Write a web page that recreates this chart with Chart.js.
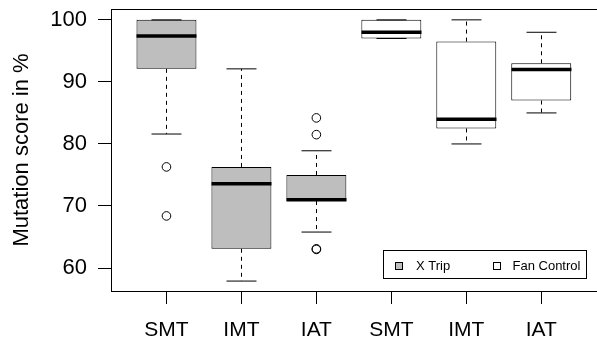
<!DOCTYPE html>
<html>
<head>
<meta charset="utf-8">
<script src="https://cdn.jsdelivr.net/npm/chart.js@4.4.1/dist/chart.umd.min.js"></script>
<style>
  html, body { margin: 0; padding: 0; background: #fff; overflow: hidden; }
  #wrap { width: 597px; height: 343px; overflow: hidden; }
</style>
</head>
<body>
<div id="wrap"><canvas id="box-chart" width="602" height="343"></canvas></div>
<script>
/////////////////// data ///////////////////
var groupLabels = ['SMT', 'IMT', 'IAT', 'SMT', 'IMT', 'IAT'];
var yTicks = [60, 70, 80, 90, 100];

// X Trip (positions 1-3)
var xTripPos = [1, 2, 3];
var xTripLow = [81.6, 57.9, 65.8];
var xTripQ1 = [92.1, 63.1, 70.8];
var xTripMedian = [97.4, 73.6, 71.0];
var xTripQ3 = [100, 76.3, 75.0];
var xTripHigh = [100, 92.1, 78.9];
var xTripOutliers = [[76.3, 68.4], [], [84.2, 81.5, 63.1, 63.0]];

// Fan Control (positions 4-6)
var fanPos = [4, 5, 6];
var fanLow = [97.0, 80.0, 85.0];
var fanQ1 = [97.0, 82.5, 87.0];
var fanMedian = [98.0, 84.0, 92.0];
var fanQ3 = [100, 96.5, 93.0];
var fanHigh = [100, 100, 98.0];
var fanOutliers = [[], [], []];

var FONT = '"Liberation Sans", Arial, Helvetica, sans-serif';
var GREY = '#BEBEBE';

function boxData(pos, q1, q3) {
    return pos.map(function (p, i) { return { x: p, y: [q1[i], q3[i]] }; });
}
function outlierData(pos, outs) {
    var pts = [];
    pos.forEach(function (p, i) {
        outs[i].forEach(function (v) { pts.push({ x: p, y: v }); });
    });
    return pts;
}

// whiskers, caps and medians on top of the boxes
var boxExtras = {
    id: 'boxExtras',
    afterDatasetsDraw: function (chart) {
        var ctx = chart.ctx;
        var xs = chart.scales.x;
        var ys = chart.scales.y;
        var unit = xs.getPixelForValue(1) - xs.getPixelForValue(0);
        var series = [
            { pos: xTripPos, lo: xTripLow, q1: xTripQ1, med: xTripMedian, q3: xTripQ3, hi: xTripHigh },
            { pos: fanPos, lo: fanLow, q1: fanQ1, med: fanMedian, q3: fanQ3, hi: fanHigh }
        ];
        ctx.save();
        ctx.strokeStyle = '#000';
        series.forEach(function (s) {
            s.pos.forEach(function (p, i) {
                var x = Math.round(xs.getPixelForValue(p)) + 0.5;
                // dashed whiskers
                ctx.lineWidth = 1;
                ctx.setLineDash([4, 4]);
                ctx.beginPath();
                ctx.moveTo(x, ys.getPixelForValue(s.q3[i]));
                ctx.lineTo(x, ys.getPixelForValue(s.hi[i]));
                ctx.moveTo(x, ys.getPixelForValue(s.q1[i]));
                ctx.lineTo(x, ys.getPixelForValue(s.lo[i]));
                ctx.stroke();
                // caps
                ctx.setLineDash([]);
                ctx.beginPath();
                ctx.moveTo(x - unit * 0.2, ys.getPixelForValue(s.hi[i]));
                ctx.lineTo(x + unit * 0.2, ys.getPixelForValue(s.hi[i]));
                ctx.moveTo(x - unit * 0.2, ys.getPixelForValue(s.lo[i]));
                ctx.lineTo(x + unit * 0.2, ys.getPixelForValue(s.lo[i]));
                ctx.stroke();
                // median
                ctx.lineWidth = 3.5;
                ctx.beginPath();
                ctx.moveTo(x - unit * 0.4, ys.getPixelForValue(s.med[i]));
                ctx.lineTo(x + unit * 0.4, ys.getPixelForValue(s.med[i]));
                ctx.stroke();
            });
        });
        ctx.restore();
    },
    afterDraw: function (chart) {
        var ctx = chart.ctx;
        var a = chart.chartArea;
        ctx.save();
        // frame round the plot
        ctx.strokeStyle = '#000';
        ctx.lineWidth = 1;
        ctx.strokeRect(Math.round(a.left) + 0.5, Math.round(a.top) + 0.5,
            Math.round(a.right - a.left), Math.round(a.bottom - a.top));
        // legend
        var lx = 383.5, ly = 250.5, lw = 203, lh = 28;
        ctx.fillStyle = '#fff';
        ctx.fillRect(lx, ly, lw, lh);
        ctx.strokeRect(lx, ly, lw, lh);
        var items = [
            { text: 'X Trip', fill: GREY, sx: 395.5, tx: 416 },
            { text: 'Fan Control', fill: '#fff', sx: 493.5, tx: 512.5 }
        ];
        ctx.font = '13px ' + FONT;
        ctx.textBaseline = 'middle';
        ctx.textAlign = 'left';
        items.forEach(function (it) {
            ctx.fillStyle = it.fill;
            ctx.fillRect(it.sx, 262.5, 7, 7);
            ctx.strokeRect(it.sx, 262.5, 7, 7);
            ctx.fillStyle = '#000';
            ctx.fillText(it.text, it.tx, 266.5);
        });
        ctx.restore();
    }
};

var ctx = document.getElementById('box-chart').getContext('2d');
var chart = new Chart(ctx, {
    type: 'bar',
    data: {
        datasets: [{
            label: 'X Trip',
            data: boxData(xTripPos, xTripQ1, xTripQ3),
            backgroundColor: GREY,
            borderColor: '#000',
            borderWidth: 1,
            borderSkipped: false
        }, {
            label: 'Fan Control',
            data: boxData(fanPos, fanQ1, fanQ3),
            backgroundColor: '#fff',
            borderColor: '#000',
            borderWidth: 1,
            borderSkipped: false
        }, {
            type: 'scatter',
            label: 'outliers',
            data: outlierData(xTripPos, xTripOutliers).concat(outlierData(fanPos, fanOutliers)),
            pointRadius: 4.3,
            pointBackgroundColor: 'rgba(0,0,0,0)',
            pointBorderColor: '#000',
            pointBorderWidth: 1
        }]
    },
    options: {
        responsive: false,
        animation: false,
        devicePixelRatio: 1,
        grouped: false,
        barPercentage: 0.8,
        categoryPercentage: 1,
        layout: { padding: { top: 9, right: 1, left: 0, bottom: 0 } },
        plugins: {
            legend: { display: false },
            tooltip: { enabled: false }
        },
        scales: {
            x: {
                type: 'linear',
                offset: false,
                min: 0.26,
                max: 6.74,
                afterBuildTicks: function (s) {
                    s.ticks = groupLabels.map(function (l, i) { return { value: i + 1 }; });
                },
                afterFit: function (s) {
                    s.height = 52;
                    s.paddingLeft = 0;
                    s.paddingRight = 0;
                },
                grid: { display: true, offset: false, drawOnChartArea: false, drawTicks: true, tickLength: 13, tickColor: '#000', tickWidth: 1 },
                border: { display: false },
                ticks: {
                    color: '#000',
                    font: { family: FONT, size: 21 },
                    padding: 14,
                    maxRotation: 0,
                    autoSkip: false,
                    callback: function (v) { return groupLabels[v - 1]; }
                }
            },
            y: {
                min: 56.3,
                max: 101.75,
                afterBuildTicks: function (s) {
                    s.ticks = yTicks.map(function (v) { return { value: v }; });
                },
                afterFit: function (s) {
                    s.width = 111;
                    s.paddingTop = 0;
                    s.paddingBottom = 0;
                },
                grid: { display: true, drawOnChartArea: false, drawTicks: true, tickLength: 13, tickColor: '#000', tickWidth: 1 },
                border: { display: false },
                ticks: {
                    color: '#000',
                    font: { family: FONT, size: 22 },
                    padding: 11
                },
                title: {
                    display: true,
                    text: 'Mutation score in %',
                    color: '#000',
                    font: { family: FONT, size: 22 },
                    padding: { top: 9, bottom: 0 }
                }
            }
        }
    },
    plugins: [boxExtras]
});
</script>
</body>
</html>
